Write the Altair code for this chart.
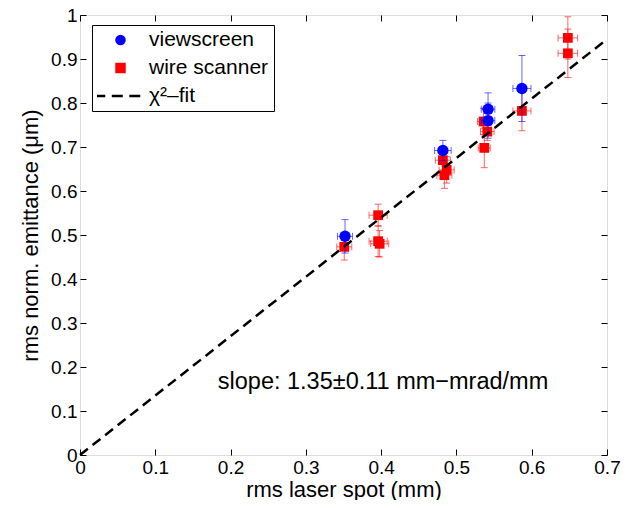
import altair as alt
import pandas as pd

# ---- data ----
vs_x = [0.352, 0.482, 0.542, 0.542, 0.587]
vs_y = [0.497, 0.692, 0.786, 0.760, 0.833]
vs_xerr = [0.010, 0.011, 0.009, 0.009, 0.012]
vs_yerr = [0.038, 0.023, 0.037, 0.040, 0.075]

ws_x = [0.351, 0.396, 0.396, 0.398, 0.482, 0.487, 0.484, 0.536, 0.541, 0.537, 0.587, 0.648, 0.648]
ws_y = [0.473, 0.545, 0.486, 0.480, 0.670, 0.648, 0.636, 0.758, 0.735, 0.698, 0.782, 0.948, 0.913]
ws_xerr = [0.010, 0.012, 0.012, 0.012, 0.010, 0.010, 0.010, 0.008, 0.009, 0.008, 0.012, 0.013, 0.013]
ws_yerr = [0.030, 0.025, 0.035, 0.030, 0.030, 0.030, 0.030, 0.030, 0.020, 0.045, 0.045, 0.048, 0.055]

fit_x = [0.0, 0.7]
fit_y = [0.0, 0.945]

series_names = ["viewscreen", "wire scanner", "χ²–fit"]
series_colors = ["#0000ff", "#ff0000", "#000000"]
series_shapes = ["circle", "square", "M-5,0H5"]
series_strokes = ["transparent", "transparent", "#000000"]
series_dashes = [[1, 0], [1, 0], [11, 6.5]]

x_ticks = [0, 0.1, 0.2, 0.3, 0.4, 0.5, 0.6, 0.7]
y_ticks = [0, 0.1, 0.2, 0.3, 0.4, 0.5, 0.6, 0.7, 0.8, 0.9, 1]

annot_x = [0.183]
annot_y = [0.166]
annot_text = ["slope: 1.35±0.11 mm−mrad/mm"]

FONT = "Liberation Sans"


def frame(xs, ys, xe, ye, name):
    return pd.DataFrame({
        "x": xs, "y": ys,
        "xlo": [a - b for a, b in zip(xs, xe)],
        "xhi": [a + b for a, b in zip(xs, xe)],
        "ylo": [a - b for a, b in zip(ys, ye)],
        "yhi": [a + b for a, b in zip(ys, ye)],
        "series": name,
    })


vs = frame(vs_x, vs_y, vs_xerr, vs_yerr, series_names[0])
ws = frame(ws_x, ws_y, ws_xerr, ws_yerr, series_names[1])
fit = pd.DataFrame({"x": fit_x, "y": fit_y})
annot = pd.DataFrame({"x": annot_x, "y": annot_y, "t": annot_text})

xscale = alt.Scale(domain=[0, 0.7], nice=False, zero=False)
yscale = alt.Scale(domain=[0, 1], nice=False, zero=False)

common_axis = dict(
    tickSize=6, offset=-6, domain=False, grid=False, tickColor="black",
    tickWidth=1, labelFont=FONT, labelFontSize=19, labelColor="black",
    labelFlush=False, labelOverlap=False, format="~g",
    titleFont=FONT, titleFontSize=22, titleColor="black", titleFontWeight="normal",
)

x_bottom = alt.Axis(orient="bottom", values=x_ticks, labelPadding=3,
                    title="rms laser spot (mm)", titlePadding=2, **common_axis)
y_left = alt.Axis(orient="left", values=y_ticks, labelPadding=3,
                  title="rms norm. emittance (μm)", titlePadding=8, **common_axis)
x_top = alt.Axis(orient="top", values=x_ticks, labels=False, title=None,
                 tickSize=6, offset=-6, domain=False, grid=False, tickColor="black")
y_right = alt.Axis(orient="right", values=y_ticks, labels=False, title=None,
                   tickSize=6, offset=-6, domain=False, grid=False, tickColor="black")

legend = alt.Legend(
    title=None, orient="none", legendX=12, legendY=10,
    labelFont=FONT, labelFontSize=21, labelColor="black",
    strokeColor="black", fillColor="white", padding=5,
    clipHeight=20, rowPadding=7, symbolOffset=13, labelOffset=18,
    symbolStrokeWidth=2.5, symbolSize=110, symbolOpacity=1,
)

color_enc = alt.Color("series:N", scale=alt.Scale(domain=series_names, range=series_colors), legend=legend)
shape_enc = alt.Shape("series:N", scale=alt.Scale(domain=series_names, range=series_shapes), legend=legend)
stroke_enc = alt.Stroke("series:N", scale=alt.Scale(domain=series_names, range=series_strokes), legend=legend)
dash_enc = alt.StrokeDash("series:N", scale=alt.Scale(domain=series_names, range=series_dashes), legend=legend)


def series_layers(df, color, size, with_axes):
    base = alt.Chart(df)
    xa = x_bottom if with_axes else None
    ya = y_left if with_axes else None
    ebar = dict(color=color, opacity=0.6)
    vbar = base.mark_rule(strokeWidth=1, **ebar).encode(
        x=alt.X("x:Q", scale=xscale, axis=xa), y=alt.Y("ylo:Q", scale=yscale, axis=ya), y2="yhi:Q")
    hbar = base.mark_rule(strokeWidth=1, **ebar).encode(
        x=alt.X("xlo:Q", scale=xscale, axis=None), x2="xhi:Q", y=alt.Y("y:Q", scale=yscale, axis=None))
    cap_lo = base.mark_tick(orient="horizontal", size=7, thickness=1, **ebar).encode(
        x=alt.X("x:Q", scale=xscale, axis=None), y=alt.Y("ylo:Q", scale=yscale, axis=None))
    cap_hi = base.mark_tick(orient="horizontal", size=7, thickness=1, **ebar).encode(
        x=alt.X("x:Q", scale=xscale, axis=None), y=alt.Y("yhi:Q", scale=yscale, axis=None))
    cap_l = base.mark_tick(orient="vertical", size=7, thickness=1, **ebar).encode(
        x=alt.X("xlo:Q", scale=xscale, axis=None), y=alt.Y("y:Q", scale=yscale, axis=None))
    cap_r = base.mark_tick(orient="vertical", size=7, thickness=1, **ebar).encode(
        x=alt.X("xhi:Q", scale=xscale, axis=None), y=alt.Y("y:Q", scale=yscale, axis=None))
    pts = base.mark_point(filled=True, opacity=1, size=size, strokeWidth=2.5).encode(
        x=alt.X("x:Q", scale=xscale, axis=None), y=alt.Y("y:Q", scale=yscale, axis=None),
        color=color_enc, shape=shape_enc, stroke=stroke_enc, strokeDash=dash_enc)
    return [vbar, hbar, cap_lo, cap_hi, cap_l, cap_r, pts]


fit_line = alt.Chart(fit).mark_line(color="black", strokeWidth=2.5, strokeDash=[10, 6]).encode(
    x=alt.X("x:Q", scale=xscale, axis=x_top), y=alt.Y("y:Q", scale=yscale, axis=y_right))

text = alt.Chart(annot).mark_text(align="left", baseline="middle", font=FONT, fontSize=23.5, color="black").encode(
    x=alt.X("x:Q", scale=xscale, axis=None), y=alt.Y("y:Q", scale=yscale, axis=None), text="t:N")

layers = series_layers(ws, "#ff0000", 95, True) + series_layers(vs, "#0000ff", 130, False) + [fit_line, text]

chart = alt.layer(*layers).resolve_axis(x="independent", y="independent").properties(
    width=527, height=440,
    autosize=alt.AutoSizeParams(type="none"),
    padding={"left": 72, "top": 7, "right": 14, "bottom": 45},
).configure_view(stroke="black", strokeWidth=1).configure(background="white")

chart.save("out.html", embed_options={"renderer": "svg", "actions": False})
